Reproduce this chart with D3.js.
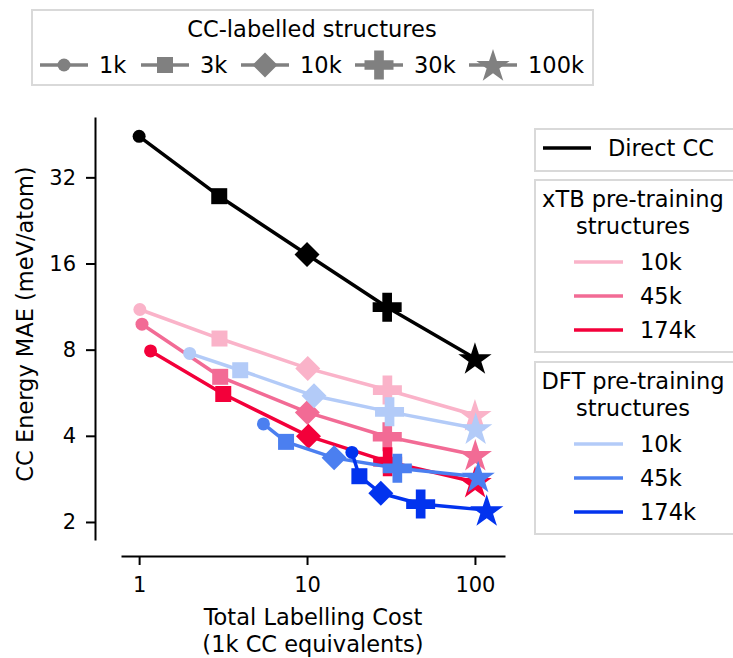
<!DOCTYPE html>
<html>
<head>
<meta charset="utf-8">
<script src="https://d3js.org/d3.v7.min.js"></script>
<style>
  body { margin: 0; background: #fff; }
  svg text { font-family: "DejaVu Sans", sans-serif; fill: #000; }
</style>
</head>
<body>
<div id="chart"></div>
<script>

// CC-labelled structure counts (marker shapes)
var ccLabels = ["1k", "3k", "10k", "30k", "100k"];
var ccShapes = ["circle", "square", "diamond", "plus", "star"];

// Direct CC
var directCost = [1, 3, 10, 30, 100];
var directMAE  = [44.5, 27.5, 17.2, 11.26, 7.47];

// xTB pre-training
var xtb10kCost  = [1.01, 3.01, 10.1, 30.1, 100];
var xtb10kMAE   = [11.05, 8.75, 6.88, 5.78, 4.73];
var xtb45kCost  = [1.04, 3.04, 10.05, 30.05, 100.5];
var xtb45kMAE   = [9.82, 6.43, 4.83, 3.97, 3.43];
var xtb174kCost = [1.17, 3.17, 10.2, 30.2, 100.2];
var xtb174kMAE  = [7.92, 5.60, 3.99, 3.25, 2.76];

// DFT pre-training
var dft10kCost  = [2.0, 4.0, 11, 31, 101];
var dft10kMAE   = [7.76, 6.78, 5.52, 4.85, 4.25];
var dft45kCost  = [5.5, 7.5, 14.5, 34.5, 104.5];
var dft45kMAE   = [4.40, 3.81, 3.35, 3.08, 2.88];
var dft174kCost = [18.5, 20.5, 27.5, 47.5, 117.5];
var dft174kMAE  = [3.50, 2.89, 2.52, 2.31, 2.20];

var xTicks = [1, 10, 100];
var yTicks = [2, 4, 8, 16, 32];

var xtbLabels = ["10k", "45k", "174k"];
var xtbColors = ["#fab3c9", "#f26b95", "#f3003a"];
var dftLabels = ["10k", "45k", "174k"];
var dftColors = ["#b3cbf8", "#4b7ff0", "#0233ee"];

var series = [
  {cost: directCost,  mae: directMAE,  color: "#000000"},
  {cost: xtb10kCost,  mae: xtb10kMAE,  color: xtbColors[0]},
  {cost: xtb45kCost,  mae: xtb45kMAE,  color: xtbColors[1]},
  {cost: xtb174kCost, mae: xtb174kMAE, color: xtbColors[2]},
  {cost: dft10kCost,  mae: dft10kMAE,  color: dftColors[0]},
  {cost: dft45kCost,  mae: dft45kMAE,  color: dftColors[1]},
  {cost: dft174kCost, mae: dft174kMAE, color: dftColors[2]}
];

var W = 733, H = 658;
var fs = 22.5;

var svg = d3.select("#chart")
  .append("svg")
    .attr("width", W)
    .attr("height", H);

var x = d3.scaleLog()
  .domain([0.78, 151])
  .range([121, 505]);

var y = d3.scaleLog()
  .base(2)
  .domain([1.73, 52])
  .range([540, 117]);

// marker paths, centred at 0,0
function markerPath(shape) {
  if (shape == "circle") {
    var r = 6.5;
    return "M" + r + ",0A" + r + "," + r + " 0 1,1 " + (-r) + ",0A" + r + "," + r + " 0 1,1 " + r + ",0Z";
  }
  if (shape == "square") {
    var h = 8;
    return "M" + (-h) + "," + (-h) + "H" + h + "V" + h + "H" + (-h) + "Z";
  }
  if (shape == "diamond") {
    var d = 12.5;
    return "M0," + (-d) + "L" + d + ",0L0," + d + "L" + (-d) + ",0Z";
  }
  if (shape == "plus") {
    var a = 14.5, b = a / 3;
    var pts = [[-b,-a],[b,-a],[b,-b],[a,-b],[a,b],[b,b],[b,a],[-b,a],[-b,b],[-a,b],[-a,-b],[-b,-b]];
    return "M" + pts.map(function(p) { return p.join(","); }).join("L") + "Z";
  }
  // star
  var R = 17.5, ri = R * 0.381966, s = [];
  for (var i = 0; i < 10; i++) {
    var ang = -Math.PI / 2 + i * Math.PI / 5;
    var rr = (i % 2 == 0) ? R : ri;
    s.push([rr * Math.cos(ang), rr * Math.sin(ang) + 1.5]);
  }
  return "M" + s.map(function(p) { return p.join(","); }).join("L") + "Z";
}

// axes
var yAxis = svg.append("g")
  .attr("transform", "translate(95,0)")
  .call(d3.axisLeft(y).tickValues(yTicks).tickFormat(d3.format("d"))
    .tickSize(9).tickSizeOuter(0).tickPadding(10));

var xAxis = svg.append("g")
  .attr("transform", "translate(0,556)")
  .call(d3.axisBottom(x).tickValues(xTicks).tickFormat(d3.format("d"))
    .tickSize(9).tickSizeOuter(0).tickPadding(12));

svg.selectAll(".domain").attr("stroke", "#000").attr("stroke-width", 2);
svg.selectAll(".tick line").attr("stroke", "#000").attr("stroke-width", 2);
svg.selectAll(".tick text")
  .style("font-family", "DejaVu Sans")
  .style("font-size", "21px")
  .attr("fill", "#000");

svg.append("text")
  .attr("transform", "translate(33,324) rotate(-90)")
  .attr("text-anchor", "middle")
  .style("font-size", fs + "px")
  .text("CC Energy MAE (meV/atom)");

svg.append("text")
  .attr("x", 313)
  .attr("y", 625)
  .attr("text-anchor", "middle")
  .style("font-size", fs + "px")
  .text("Total Labelling Cost");

svg.append("text")
  .attr("x", 313)
  .attr("y", 652)
  .attr("text-anchor", "middle")
  .style("font-size", fs + "px")
  .text("(1k CC equivalents)");

// series
var line = d3.line()
  .x(function(d) { return x(d[0]); })
  .y(function(d) { return y(d[1]); });

series.forEach(function(s) {
  var pts = s.cost.map(function(c, i) { return [c, s.mae[i]]; });
  var g = svg.append("g");
  g.append("path")
    .datum(pts)
    .attr("d", line)
    .attr("fill", "none")
    .attr("stroke", s.color)
    .attr("stroke-width", 3.5)
    .attr("stroke-linejoin", "round");
  g.selectAll(".mk")
    .data(pts)
    .enter()
    .append("path")
      .attr("transform", function(d) { return "translate(" + x(d[0]) + "," + y(d[1]) + ")"; })
      .attr("d", function(d, i) { return markerPath(ccShapes[i]); })
      .attr("fill", s.color);
});

// top legend: CC-labelled structures
var frame = "#d9d9d9";
var legTop = svg.append("g");
legTop.append("rect")
  .attr("x", 32).attr("y", 10)
  .attr("width", 561).attr("height", 75)
  .attr("fill", "#fff").attr("stroke", frame).attr("stroke-width", 2);
legTop.append("text")
  .attr("x", 312).attr("y", 37)
  .attr("text-anchor", "middle")
  .style("font-size", fs + "px")
  .text("CC-labelled structures");

var legX = [40, 141, 241, 355, 469];
ccLabels.forEach(function(lab, i) {
  var lx = legX[i];
  legTop.append("line")
    .attr("x1", lx).attr("x2", lx + 48)
    .attr("y1", 65).attr("y2", 65)
    .attr("stroke", "#808080").attr("stroke-width", 3.5);
  legTop.append("path")
    .attr("transform", "translate(" + (lx + 24) + ",65)")
    .attr("d", markerPath(ccShapes[i]))
    .attr("fill", "#808080");
  legTop.append("text")
    .attr("x", lx + 59).attr("y", 73)
    .style("font-size", fs + "px")
    .text(lab);
});

// right legends
var side = svg.append("g");
side.append("rect")
  .attr("x", 535).attr("y", 129)
  .attr("width", 215).attr("height", 42)
  .attr("fill", "#fff").attr("stroke", frame).attr("stroke-width", 2);
side.append("line")
  .attr("x1", 543).attr("x2", 591)
  .attr("y1", 148).attr("y2", 148)
  .attr("stroke", "#000").attr("stroke-width", 3.5);
side.append("text")
  .attr("x", 608).attr("y", 156)
  .style("font-size", fs + "px")
  .text("Direct CC");

function groupLegend(top0, title, labels, colors) {
  side.append("rect")
    .attr("x", 535).attr("y", top0)
    .attr("width", 215).attr("height", 172)
    .attr("fill", "#fff").attr("stroke", frame).attr("stroke-width", 2);
  side.append("text")
    .attr("x", 633).attr("y", top0 + 27)
    .attr("text-anchor", "middle")
    .style("font-size", fs + "px")
    .text(title);
  side.append("text")
    .attr("x", 633).attr("y", top0 + 54)
    .attr("text-anchor", "middle")
    .style("font-size", fs + "px")
    .text("structures");
  labels.forEach(function(lab, i) {
    var ly = top0 + 82 + i * 34;
    side.append("line")
      .attr("x1", 574).attr("x2", 623)
      .attr("y1", ly).attr("y2", ly)
      .attr("stroke", colors[i]).attr("stroke-width", 3.5);
    side.append("text")
      .attr("x", 640).attr("y", ly + 8)
      .style("font-size", fs + "px")
      .text(lab);
  });
}

groupLegend(180, "xTB pre-training", xtbLabels, xtbColors);
groupLegend(362, "DFT pre-training", dftLabels, dftColors);

</script>
</body>
</html>
